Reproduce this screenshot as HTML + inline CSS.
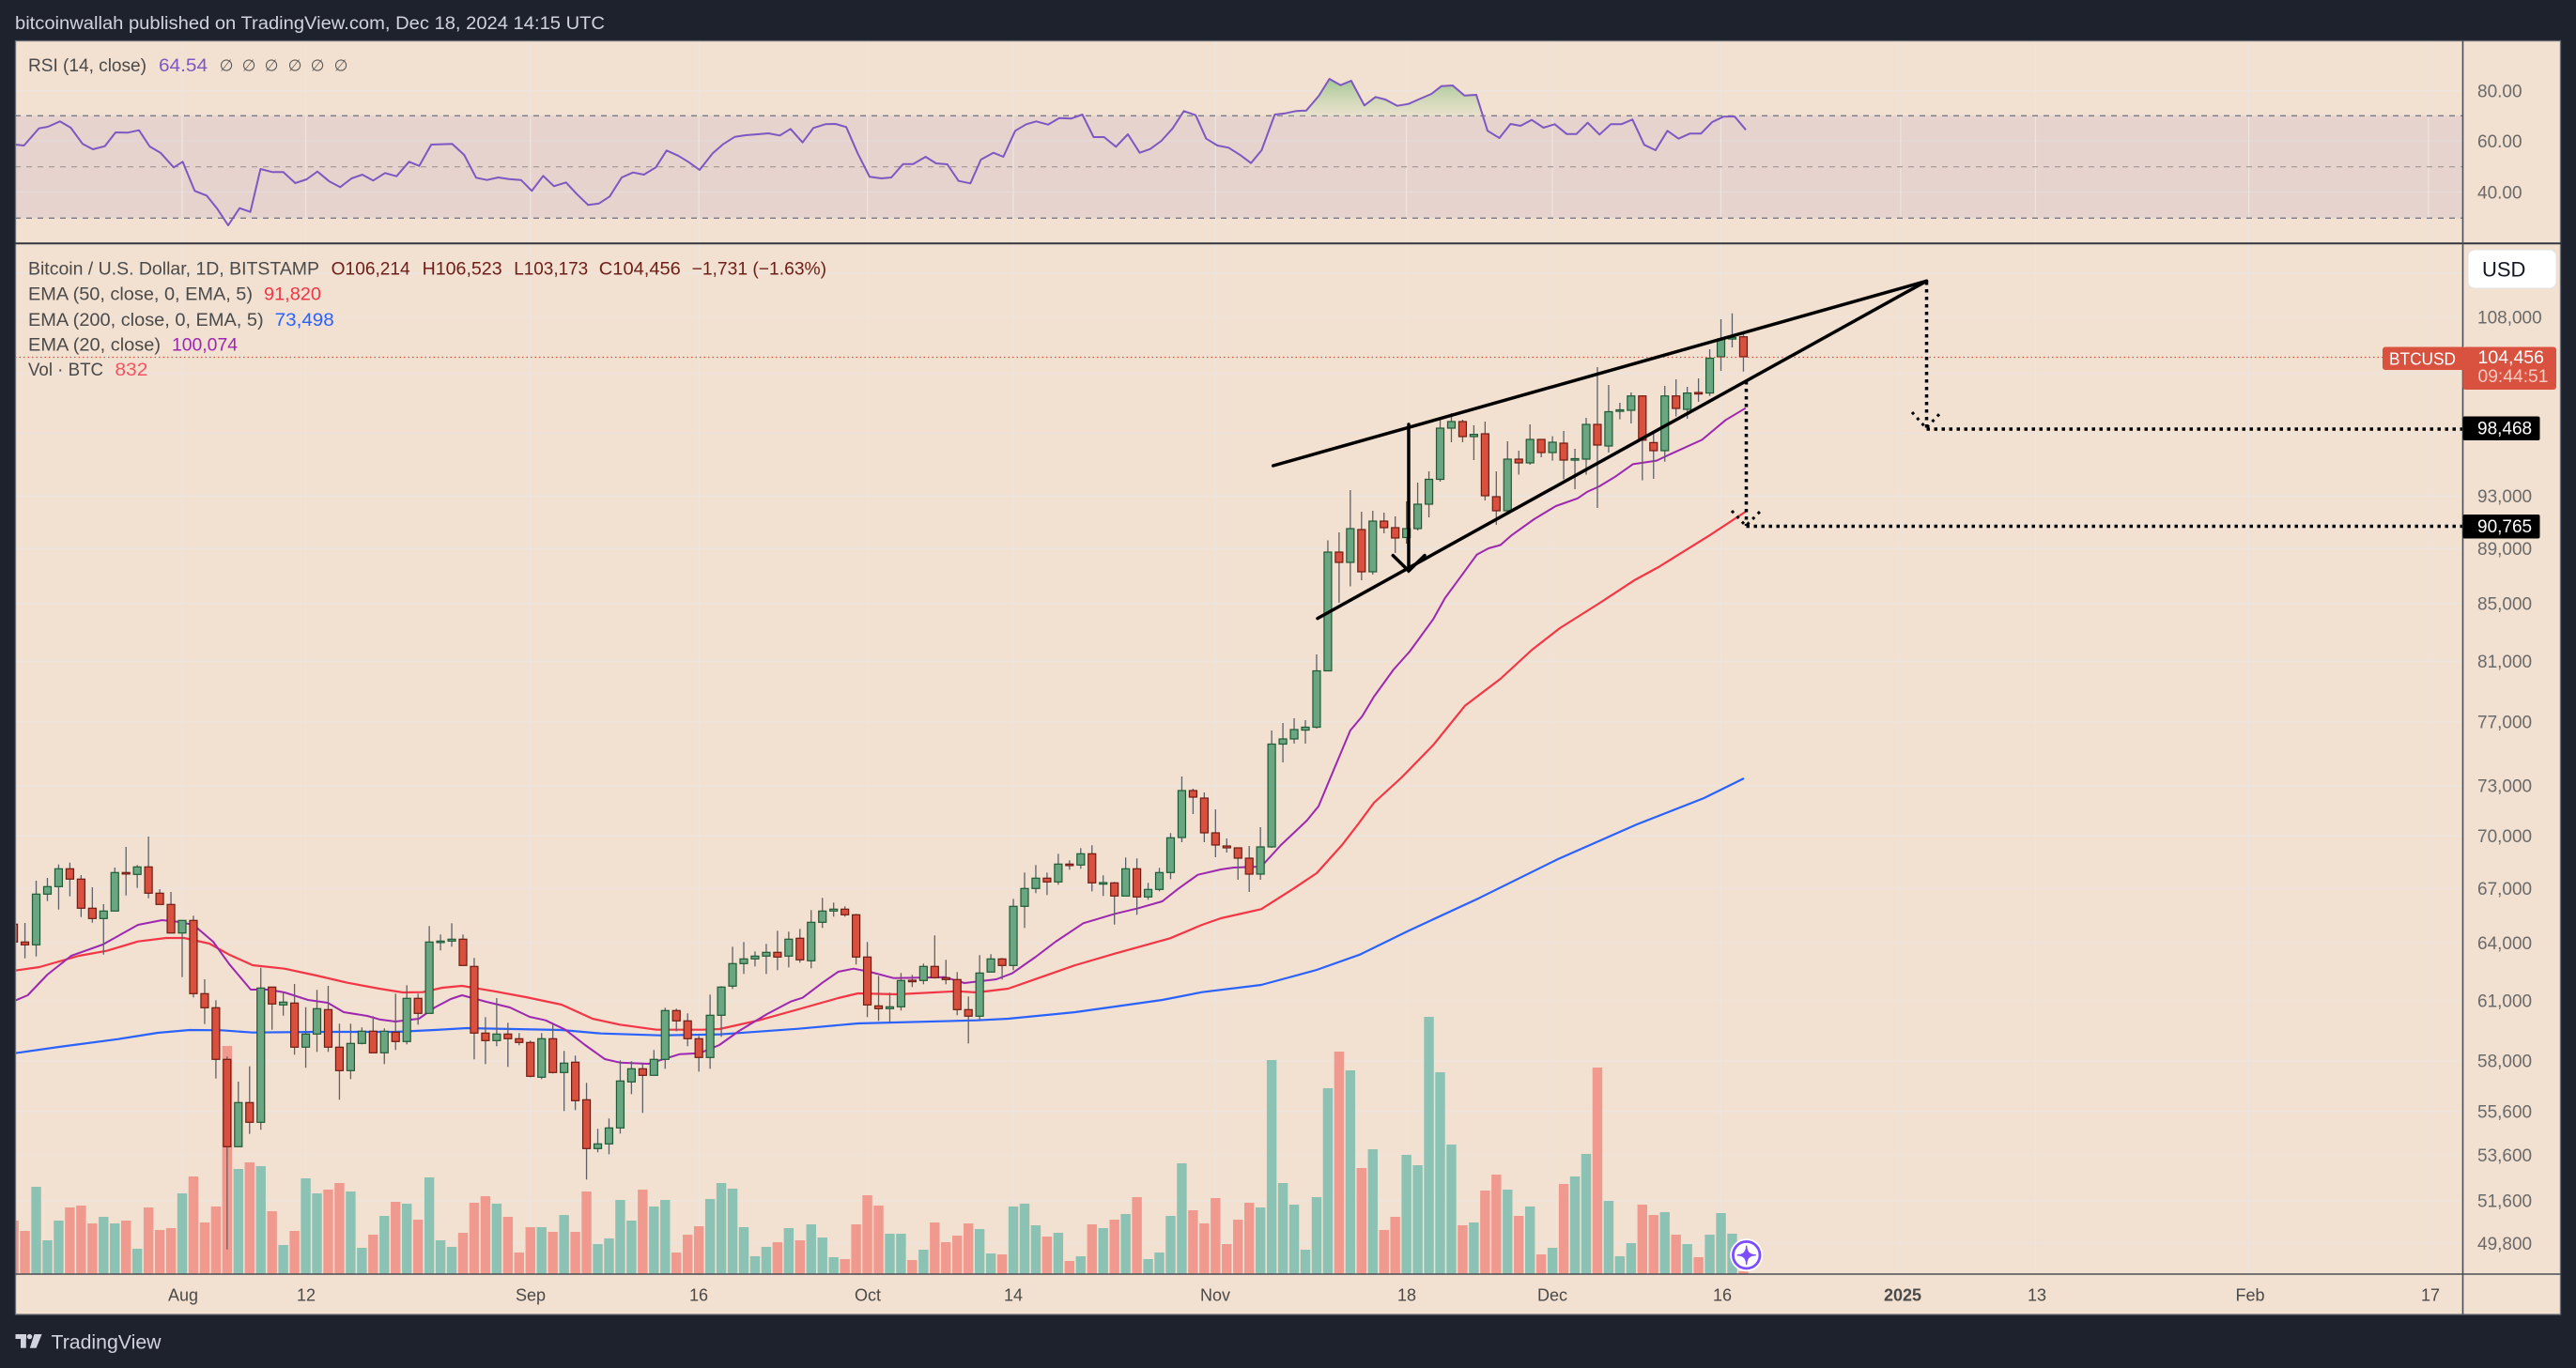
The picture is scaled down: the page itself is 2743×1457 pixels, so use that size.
<!DOCTYPE html>
<html><head><meta charset="utf-8"><title>BTCUSD chart</title>
<style>
html,body{margin:0;padding:0;background:#1e222d;width:2743px;height:1457px;overflow:hidden}
svg{display:block}
text{font-family:"Liberation Sans","DejaVu Sans",sans-serif}
</style></head>
<body>
<svg id="s" xmlns="http://www.w3.org/2000/svg" width="2743" height="1457" viewBox="0 0 2743 1457">
<defs>
<clipPath id="mp"><rect x="16" y="260" width="2606" height="1097"/></clipPath>
<clipPath id="rp"><rect x="16" y="43" width="2606" height="216"/></clipPath>
<clipPath id="ob"><rect x="16" y="43" width="2606" height="80.3"/></clipPath>
<linearGradient id="gf" x1="0" y1="84" x2="0" y2="123.3" gradientUnits="userSpaceOnUse">
<stop offset="0" stop-color="#9cc58e" stop-opacity="0.95"/>
<stop offset="1" stop-color="#dfe0c6" stop-opacity="0.5"/>
</linearGradient>
</defs>
<rect x="0" y="0" width="2743" height="1457" fill="#1e222d"/>
<text x="16" y="31" font-size="19" fill="#d1d4dc" textLength="628" lengthAdjust="spacingAndGlyphs">bitcoinwallah published on TradingView.com, Dec 18, 2024 14:15 UTC</text>

<!-- panel -->
<rect x="16" y="43" width="2711" height="1357" fill="#f2e0d0"/>
<!-- RSI band -->
<rect x="16" y="123.3" width="2606" height="109" fill="#e6d3cd"/>

<!-- grid -->
<g stroke="#ece4df" stroke-width="1.3" fill="none">
<line x1="16" x2="2622" y1="96.7" y2="96.7"/>
<line x1="16" x2="2622" y1="150" y2="150" stroke="#e4dbdc"/>
<line x1="16" x2="2622" y1="204.5" y2="204.5" stroke="#e4dbdc"/>
<line x1="16" x2="2622" y1="291.2" y2="291.2"/>
<line x1="16" x2="2622" y1="337.6" y2="337.6"/>
<line x1="16" x2="2622" y1="397.9" y2="397.9"/>
<line x1="16" x2="2622" y1="461.5" y2="461.5"/>
<line x1="16" x2="2622" y1="528.2" y2="528.2"/>
<line x1="16" x2="2622" y1="584.2" y2="584.2"/>
<line x1="16" x2="2622" y1="642.8" y2="642.8"/>
<line x1="16" x2="2622" y1="704.2" y2="704.2"/>
<line x1="16" x2="2622" y1="768.8" y2="768.8"/>
<line x1="16" x2="2622" y1="836.8" y2="836.8"/>
<line x1="16" x2="2622" y1="890.2" y2="890.2"/>
<line x1="16" x2="2622" y1="946" y2="946"/>
<line x1="16" x2="2622" y1="1004.4" y2="1004.4"/>
<line x1="16" x2="2622" y1="1065.6" y2="1065.6"/>
<line x1="16" x2="2622" y1="1129.8" y2="1129.8"/>
<line x1="16" x2="2622" y1="1183.7" y2="1183.7"/>
<line x1="16" x2="2622" y1="1230.4" y2="1230.4"/>
<line x1="16" x2="2622" y1="1278.8" y2="1278.8"/>
<line x1="16" x2="2622" y1="1324.1" y2="1324.1"/>
<g id="vgrid"></g>
</g>

<!-- RSI dashed levels -->
<line x1="16" x2="2622" y1="123.3" y2="123.3" stroke="#787b86" stroke-width="1.3" stroke-dasharray="6 6"/>
<line x1="16" x2="2622" y1="177.6" y2="177.6" stroke="#a59c99" stroke-width="1.2" stroke-dasharray="6 6"/>
<line x1="16" x2="2622" y1="232.3" y2="232.3" stroke="#787b86" stroke-width="1.3" stroke-dasharray="6 6"/>

<!-- RSI overbought fill -->
<g clip-path="url(#ob)">
<polygon fill="url(#gf)" points="1248.7,136.7 1260.6,118.3 1273.2,122.7 1284.4,147.7 1343.4,160 1357.4,122 1368.6,120.7 1379.8,118.3 1391,117.7 1404.4,102 1415.6,84 1427.5,90.7 1438.8,86 1452.8,112.3 1464.7,103.3 1475.2,106 1487.9,112.7 1499.8,110.7 1510.3,106 1524.3,100 1534.9,91.7 1546.8,91 1559.4,101.7 1572,101 1584,139.3 1584,130 1248.7,130"/>
</g>
<!-- RSI line -->
<polyline clip-path="url(#rp)" fill="none" stroke="#7e57c2" stroke-width="2" stroke-linejoin="round" points="15.9,154 25.5,155 41.5,136.7 51,135 63.8,129.3 75.3,136 88,153.3 98.9,159 111.6,155.7 123.1,141 135.8,141.3 148,138.7 159.4,156 170.9,162.7 185,178.3 194.5,172.3 207.3,203.3 220,208.3 230.9,221.7 243,240 255.1,221.7 266.6,225.7 277.4,180 290.2,183.3 301.7,183.3 314.4,195 326.5,191 338,182.7 350.8,193.3 362.2,199.3 374.4,190 385.8,186 397.3,192.3 410,184.3 422.2,187.7 435.6,172.3 446.4,176.7 459.2,154 481.5,153.3 494.3,165 507,189.3 518.5,191.7 530.6,189 542.1,190.7 554.8,191.7 566.3,203.3 578.4,187.3 589.9,198.3 602.7,194.3 614.2,206.7 626.3,218.3 637.8,216.7 649.2,209.3 662,189 674.1,183.7 685.6,186 698.3,178.3 709.8,160.3 721.9,165.7 733.4,172.7 744.9,181 758.9,163.3 770.4,153.3 782.5,145.7 794,144 806.8,143 818.2,142 830.4,144.3 841.8,137.3 854.6,151.7 866.1,136.3 878.8,132.3 889.7,132 901.1,135.3 913.3,163.3 926,188.3 938.6,190 949.1,189 961.7,174.7 972.3,174.7 985.6,167 996.8,174 1008.7,175 1020.7,192.7 1033.3,195.3 1044.5,170 1057.8,162.7 1068.4,167 1081,139.3 1092.9,132.3 1103.4,129.3 1116,132.7 1128,125.7 1140.6,126.3 1152.5,122 1164.5,146 1175.7,146 1188.3,156.3 1201,143 1213.6,162.7 1224.8,158.7 1236.7,150 1248.7,136.7 1260.6,118.3 1273.2,122.7 1284.4,147.7 1296.4,155 1308.3,157.3 1320.9,165.3 1332.1,173.7 1343.4,160 1357.4,122 1368.6,120.7 1379.8,118.3 1391,117.7 1404.4,102 1415.6,84 1427.5,90.7 1438.8,86 1452.8,112.3 1464.7,103.3 1475.2,106 1487.9,112.7 1499.8,110.7 1510.3,106 1524.3,100 1534.9,91.7 1546.8,91 1559.4,101.7 1572,101 1584,139.3 1596.6,147 1608.5,132 1619.1,134 1631,127.7 1643.6,136 1655.5,132.3 1668.2,142.7 1678.7,142.7 1690.6,130.7 1703.2,143.3 1715.2,132.3 1726.4,132.3 1738.3,127.3 1750.9,154.3 1762.9,160 1775.5,139.3 1787.4,147.7 1799.3,142.3 1811.2,142.3 1823.2,130 1835.1,124.3 1847,124 1859,138.3"/>

<!-- main pane -->
<g clip-path="url(#mp)">
<g id="vol"></g>
<polyline fill="none" stroke="#2962ff" stroke-width="2.2" stroke-linejoin="round" points="16,1121.7 63,1115 126,1106.7 168,1100 202,1097 236,1097.3 269,1099.7 337,1099 421,1099 463,1097 497,1095 547,1096 598,1097 640,1100.7 703,1102.7 766,1101.7 850,1095.7 913.6,1090 1040,1086.7 1073.5,1085 1145,1078 1237.6,1065 1280,1056.7 1343,1049 1402,1033 1448,1016.7 1499,991.7 1574.6,956.7 1659,915 1743,878 1814.5,850 1857,829"/>
<polyline fill="none" stroke="#f23645" stroke-width="2.2" stroke-linejoin="round" points="16,1033.7 42,1030 84,1018 113.6,1012.7 147,1002.7 177,999 196,999 223,1005 244,1016.7 269,1028 303,1031.7 337,1039 370,1046.7 404,1053 429,1057 450,1056.7 471,1052 492,1050 526,1055.7 560,1062 598,1070 631,1085 660,1091.3 699,1096.7 749,1096.7 766,1096 808,1086.7 850,1075 892.5,1063 913.6,1058 955.7,1059 1018.8,1055.7 1040,1057 1073.5,1053 1103,1042.7 1145,1028 1187,1015.7 1246,999.3 1280,985 1300,978 1343,968.3 1377,946.7 1402,930 1429,900 1446,878 1463,855 1492.5,828 1526,793.7 1560,751.6 1597.7,723 1631.4,692 1661,669 1703,642.5 1741,617.6 1766,604 1821,569.8 1858.7,545"/>
<polyline fill="none" stroke="#9c27b0" stroke-width="2" stroke-linejoin="round" points="16,1065.7 29.5,1060 50.5,1038 75.8,1018 109.4,1006 126,996.7 147,985 172.6,980 189.4,981.7 206,985 227,1003 244,1026.7 267,1054 286,1054 303,1057 328,1065 349,1068 366,1078 391,1082 404,1085.7 421,1088 446,1085 463,1073 480,1064 492,1060 518,1067 543,1073 564,1083 581,1086.7 602,1096.7 623,1113 644,1128 660,1131.7 690.5,1133 724,1122.7 745,1121.7 766,1113 787,1098 816.8,1080 842,1066.7 854.6,1062.7 875.7,1046.7 892.5,1035 909,1031.7 926,1035 951.4,1041.7 1006,1040.7 1027,1047 1061,1043 1077.7,1036.7 1103,1019 1124,1003 1153.5,983.3 1187,973.3 1212,967.3 1237.6,960 1254.5,946.7 1275.5,931.7 1300,926 1313.7,924 1343,923 1364,900 1391.5,874 1404,858.7 1416.8,828 1437.8,778 1450.4,763 1463,742 1484,713 1501,694 1526,659.7 1538.8,636.8 1555.7,613.8 1572.5,590.8 1585,584 1597.7,580.5 1610,569.8 1633.5,553 1656.7,539 1679.8,530.8 1690,523.9 1703,518 1719.8,507.8 1738.7,494.4 1764,490.6 1778.7,483.7 1812.4,468.4 1837.6,447.3 1858.7,434.7"/>
<g id="cdl"></g>
<!-- current price line -->
<line x1="16" x2="2537" y1="380.5" y2="380.5" stroke="#e0503f" stroke-width="1.2" stroke-dasharray="1.5 3"/>
<!-- wedge drawing -->
<g stroke="#000" stroke-width="3.5" stroke-linecap="round" fill="none">
<line x1="1355.7" y1="496" x2="2051.5" y2="299.3"/>
<line x1="1403" y1="658.6" x2="2051.5" y2="299.3"/>
<line x1="1500" y1="452" x2="1500" y2="607"/>
<polyline points="1483.3,591.6 1500,608 1517,591.6"/>
</g>
<g stroke="#000" stroke-width="3.5" fill="none" stroke-dasharray="3.5 4.5">
<line x1="1859.5" y1="406" x2="1859.5" y2="560"/>
<line x1="1859.5" y1="560.5" x2="2622" y2="560.5"/>
<line x1="2051.5" y1="300" x2="2051.5" y2="456.5"/>
<line x1="2051.5" y1="457" x2="2622" y2="457"/>
</g>
<g stroke="#000" stroke-width="3" fill="none" stroke-dasharray="3 5">
<polyline points="1844,544 1859,560 1875,544"/>
<polyline points="2036,439 2051,456 2067,439"/>
</g>
<!-- sparkle button -->
<circle cx="1859.7" cy="1336.7" r="17.5" fill="#ffffff"/>
<circle cx="1859.7" cy="1336.7" r="14.3" fill="#ffffff" stroke="#7c4dff" stroke-width="2.8"/>
<path d="M1859.7,1327.2 Q1859.7,1336.7 1869.2,1336.7 Q1859.7,1336.7 1859.7,1346.2 Q1859.7,1336.7 1850.2,1336.7 Q1859.7,1336.7 1859.7,1327.2 Z" fill="#7c4dff" stroke="#7c4dff" stroke-width="1.5" stroke-linejoin="round"/>
</g>

<!-- separators / borders -->
<rect x="16.5" y="43.5" width="2710" height="1356.5" fill="none" stroke="#6a6d75" stroke-width="1.3"/>
<line x1="16" x2="2727" y1="259.3" y2="259.3" stroke="#33363f" stroke-width="2"/>
<line x1="16" x2="2727" y1="1357" y2="1357" stroke="#4a4d55" stroke-width="1.6"/>
<line x1="2622.5" x2="2622.5" y1="43" y2="1400" stroke="#4a4d55" stroke-width="1.6"/>

<!-- RSI axis labels -->
<g font-size="19" fill="#6a6a6a">
<text x="2638" y="103.5">80.00</text>
<text x="2638" y="156.8">60.00</text>
<text x="2638" y="211.5">40.00</text>
</g>
<!-- price axis labels -->
<g font-size="19" fill="#6a6a6a">
<text x="2638" y="344.4">108,000</text>
<text x="2638" y="535">93,000</text>
<text x="2638" y="591">89,000</text>
<text x="2638" y="649.6">85,000</text>
<text x="2638" y="711">81,000</text>
<text x="2638" y="775.6">77,000</text>
<text x="2638" y="843.6">73,000</text>
<text x="2638" y="897">70,000</text>
<text x="2638" y="952.8">67,000</text>
<text x="2638" y="1011.2">64,000</text>
<text x="2638" y="1072.4">61,000</text>
<text x="2638" y="1136.6">58,000</text>
<text x="2638" y="1190.5">55,600</text>
<text x="2638" y="1237.2">53,600</text>
<text x="2638" y="1285.6">51,600</text>
<text x="2638" y="1330.9">49,800</text>
</g>
<!-- USD box -->
<rect x="2628" y="266" width="94" height="41" rx="7" fill="#ffffff" stroke="#e3e3e6" stroke-width="1"/>
<text x="2643" y="294.5" font-size="22" fill="#131722">USD</text>
<!-- BTCUSD label -->
<rect x="2537" y="369.5" width="88" height="24.5" rx="3" fill="#d9523f"/>
<text x="2544" y="388.5" font-size="18" fill="#ffffff" textLength="71" lengthAdjust="spacingAndGlyphs">BTCUSD</text>
<rect x="2622.5" y="369.5" width="99.5" height="45.5" rx="3" fill="#d9523f"/>
<text x="2638.5" y="386.8" font-size="19" fill="#ffffff" textLength="70.5" lengthAdjust="spacingAndGlyphs">104,456</text>
<text x="2638.5" y="406.8" font-size="19" fill="#f6c9c1" textLength="75" lengthAdjust="spacingAndGlyphs">09:44:51</text>
<!-- level labels -->
<rect x="2622.5" y="443.5" width="82" height="25.5" rx="2" fill="#000000"/>
<text x="2638" y="462.6" font-size="19" fill="#ffffff">98,468</text>
<rect x="2622.5" y="548" width="82" height="25.5" rx="2" fill="#000000"/>
<text x="2638" y="567.1" font-size="19" fill="#ffffff">90,765</text>

<!-- time axis labels -->
<g font-size="18" fill="#4a4a4a" text-anchor="middle">
<text x="195" y="1385.5">Aug</text>
<text x="326" y="1385.5">12</text>
<text x="565" y="1385.5">Sep</text>
<text x="744" y="1385.5">16</text>
<text x="924" y="1385.5">Oct</text>
<text x="1079" y="1385.5">14</text>
<text x="1294" y="1385.5">Nov</text>
<text x="1498" y="1385.5">18</text>
<text x="1653" y="1385.5">Dec</text>
<text x="1834" y="1385.5">16</text>
<text x="2026" y="1385.5" font-weight="bold">2025</text>
<text x="2169" y="1385.5">13</text>
<text x="2396" y="1385.5">Feb</text>
<text x="2588" y="1385.5">17</text>
</g>

<!-- legends -->
<g font-size="19">
<text x="30" y="75.8" fill="#4a4a4a" textLength="126" lengthAdjust="spacingAndGlyphs">RSI (14, close)</text>
<text x="169" y="75.8" fill="#7e57c2" textLength="52" lengthAdjust="spacingAndGlyphs">64.54</text>
<g fill="#555" font-family="DejaVu Sans, sans-serif" font-size="17" text-anchor="middle">
<text x="241" y="75.5">∅</text><text x="265" y="75.5">∅</text><text x="289" y="75.5">∅</text><text x="314" y="75.5">∅</text><text x="338" y="75.5">∅</text><text x="363" y="75.5">∅</text>
</g>
<text x="30" y="292.5" fill="#4a4a4a" textLength="310" lengthAdjust="spacingAndGlyphs">Bitcoin / U.S. Dollar, 1D, BITSTAMP</text>
<text x="352.7" y="292.5" fill="#6e1d17" textLength="84" lengthAdjust="spacingAndGlyphs">O106,214</text>
<text x="449.6" y="292.5" fill="#6e1d17" textLength="85" lengthAdjust="spacingAndGlyphs">H106,523</text>
<text x="547.2" y="292.5" fill="#6e1d17" textLength="79" lengthAdjust="spacingAndGlyphs">L103,173</text>
<text x="637.8" y="292.5" fill="#6e1d17" textLength="87" lengthAdjust="spacingAndGlyphs">C104,456</text>
<text x="736.6" y="292.5" fill="#6e1d17" textLength="143.5" lengthAdjust="spacingAndGlyphs">−1,731 (−1.63%)</text>
<text x="30" y="319.5" fill="#4a4a4a" textLength="239" lengthAdjust="spacingAndGlyphs">EMA (50, close, 0, EMA, 5)</text>
<text x="281" y="319.5" fill="#f23645" textLength="61" lengthAdjust="spacingAndGlyphs">91,820</text>
<text x="30" y="346.8" fill="#4a4a4a" textLength="250.6" lengthAdjust="spacingAndGlyphs">EMA (200, close, 0, EMA, 5)</text>
<text x="292.7" y="346.8" fill="#2962ff" textLength="63" lengthAdjust="spacingAndGlyphs">73,498</text>
<text x="30" y="373.5" fill="#4a4a4a" textLength="141" lengthAdjust="spacingAndGlyphs">EMA (20, close)</text>
<text x="183" y="373.5" fill="#9c27b0" textLength="70" lengthAdjust="spacingAndGlyphs">100,074</text>
<text x="30" y="400" fill="#4a4a4a" textLength="80" lengthAdjust="spacingAndGlyphs">Vol · BTC</text>
<text x="122.4" y="400" fill="#f7525f" textLength="35" lengthAdjust="spacingAndGlyphs">832</text>
</g>

<!-- footer -->
<g fill="#d1d4dc">
<rect x="16.5" y="1421" width="11.5" height="5"/>
<rect x="22" y="1421" width="5.8" height="14.7"/>
<circle cx="31.5" cy="1423.6" r="2.7"/>
<polygon points="36.5,1421 44.6,1421 38.6,1435.7 31.8,1435.7"/>
<text x="54.5" y="1436.5" font-size="21" textLength="117" lengthAdjust="spacingAndGlyphs">TradingView</text>
</g>
</svg>
<script>
(function(){
var NS='http://www.w3.org/2000/svg';
function el(t,a,p){var e=document.createElementNS(NS,t);for(var k in a)e.setAttribute(k,a[k]);p.appendChild(e);return e;}
function X(d){return 194+11.96*d;}
// vertical grid
var vg=document.getElementById('vgrid');
[194,325.6,564.8,744.2,923.6,1079,1294.3,1497.6,1653.1,1832.5,2023.9,2167.4,2394.6,2585.9].forEach(function(x){
 el('line',{x1:x,x2:x,y1:43,y2:1357},vg);
});
// volume
var vol="r1300 r1311 g1264 g1321 g1300 r1286 r1284 r1303 g1296 g1303 r1300 g1330 r1286 r1310 r1308 g1271 r1253 r1302 r1285 r1114 g1245 r1238 g1242 r1290 g1326 r1311 g1255 g1271 r1267 r1260 g1269 g1329 r1315 g1295 r1280 g1282 r1299 g1254 g1321 g1328 r1313 r1281 r1274 g1282 r1296 r1334 r1307 g1307 r1312 g1294 r1312 r1269 g1325 g1319 g1278 g1300 r1267 g1285 g1278 r1334 r1315 r1306 g1277 g1260 g1266 g1307 g1338 g1328 r1323 g1308 r1321 g1304 g1318 g1339 r1341 r1304 r1273 r1284 g1314 g1314 r1342 g1331 r1302 r1323 r1316 r1303 g1309 g1335 r1336 g1285 g1282 g1305 r1317 g1313 r1343 g1338 r1304 g1308 r1299 g1293 r1275 g1341 g1334 g1295 g1239 r1289 r1303 r1276 r1325 r1299 r1281 g1286 g1129 g1260 g1283 g1331 g1275 g1159 r1120 g1140 r1244 g1224 r1310 r1296 g1230 g1241 g1083 g1142 g1219 r1305 g1302 r1268 r1251 g1267 r1295 g1285 r1336 g1329 r1261 g1253 g1229 r1137 g1279 g1338 g1324 r1283 r1294 g1291 r1315 g1325 r1339 g1315 g1292 g1314 r1354".split(' ');
var vgp=document.getElementById('vol');
vol.forEach(function(s,i){
 var d=i-15,t=s.charAt(0),top=parseFloat(s.slice(1));
 el('rect',{x:(X(d)-5.2).toFixed(2),y:top,width:10.4,height:(1357-top).toFixed(1),fill:t==='g'?'#8cc2b4':'#f0998e'},vgp);
});
// candles: type bodyTop bodyBot wickTop wickBot
var C=[
"r 984.3 1003.3 975 1003.3","r 1003.3 1006.3 983 1020.7","g 952.3 1006.3 938 1018.7","g 944.3 952.3 935 959.7","g 925.3 944.3 920.7 968.7",
"r 925.3 936.3 918.7 954.7","r 936.3 967.3 932 976.7","r 967.3 978.3 945 982.7","g 970.3 978.3 963 1016.7","g 929.3 970.3 924 970.3",
"r 929.3 930.3 902 953.7","g 923.3 931.3 921.3 945.7","r 923.3 951.3 891 956.7","r 951.3 963.3 947 963.3","r 963.3 993.7 950 993.7",
"g 980.3 993.7 980.3 1040.7","r 980.3 1058.3 975.3 1062.3","r 1058.3 1073.3 1043 1090.7","r 1073.3 1128.3 1065.3 1148.7","r 1128.3 1221.3 1125.3 1330.7",
"g 1174.3 1221.3 1152 1221.3","r 1174.3 1195.3 1135.7 1207.7","g 1052.3 1195.3 1030.7 1203.3","r 1051.3 1069.3 1051.3 1096.7","g 1067.3 1070.3 1057.3 1081.7",
"r 1068.3 1115.3 1048 1123.3","g 1101.3 1115.3 1072.7 1137.3","g 1074.3 1101.3 1054.3 1120.3","r 1075.3 1115.3 1050 1120.3","r 1115.3 1140.3 1090.3 1171.3",
"g 1111.3 1140.3 1090.3 1149.3","g 1098.3 1111.3 1094.3 1112.3","r 1098.3 1121.3 1082.3 1121.3","g 1098.3 1121.3 1095.3 1133.3","r 1099.3 1109.3 1058.3 1118.3",
"g 1063.3 1109.3 1049.3 1112.3","r 1063.3 1079.3 1058.3 1091.3","g 1003.3 1079.3 986.3 1079.3","g 1002.3 1003.3 995.3 1012.3","g 1000.3 1002.3 983.3 1008.3",
"r 1000.3 1028.3 995.3 1028.3","r 1029.3 1100.3 1020.3 1128.3","r 1100.3 1108.3 1083.3 1133.3","g 1101.3 1108.3 1063 1114.3","r 1101.3 1106.3 1089.3 1136.3",
"r 1106.3 1110.3 1100.3 1113.3","r 1110.3 1146.3 1108.3 1147.3","g 1106.3 1147.3 1100.3 1149.3","r 1106.3 1142.3 1091.3 1143.3","g 1132.3 1142.3 1119.3 1183.3",
"r 1131.3 1172.3 1124.3 1182.3","r 1171.3 1223.3 1153.3 1256.3","g 1218.3 1223.3 1202.3 1227.3","g 1201.3 1218.3 1191.3 1229.3","g 1151.3 1201.3 1129.3 1207.3",
"g 1138.3 1152.3 1130.3 1165.3","r 1138.3 1145.3 1133.3 1185.3","g 1128.3 1145.3 1118.3 1145.3","g 1076.3 1128.3 1073.3 1138.3","r 1076.3 1087.3 1074.3 1098.3",
"r 1087.3 1106.3 1079.3 1114.3","r 1106.3 1126.3 1103.3 1141.3","g 1081.3 1126.3 1059.3 1138.3","g 1051.3 1081.3 1050.3 1104.3","g 1026.3 1050.3 1008.3 1053.3",
"g 1021.3 1026.3 1003.3 1037.3","g 1018.3 1021.3 1013.3 1029.3","g 1014.3 1018.3 1005.3 1037.3","r 1014.3 1019.3 991.3 1033.3","g 1000.3 1018.3 992.3 1030.3",
"r 999.3 1022.3 989.3 1025.3","g 982.3 1023.3 969.3 1031.3","g 970.3 982.3 956.3 988.3","g 968.3 970.3 961.3 976.3","r 968.3 974.3 965.3 976.3",
"r 974.3 1019.3 973.3 1027.3","r 1019.3 1070.3 1003.3 1083.3","r 1071.3 1074.3 1039.3 1087.3","g 1072.3 1074.3 1057.3 1089.3","g 1044.3 1072.3 1036.3 1076.3",
"r 1044 1045 1038.3 1051.3","g 1029.3 1044.3 1026.3 1048.3","r 1029.3 1041.3 996.3 1042.3","r 1041.3 1043.3 1022.3 1048.3","r 1043.3 1075.3 1035.3 1081.3",
"r 1075.3 1082.3 1061.3 1111.3","g 1036.3 1082.3 1017.3 1086.3","g 1021.3 1035.3 1016.3 1035.3","r 1021.3 1028.3 1020.3 1043.3","g 965.3 1028.3 957.3 1033.3",
"g 946.3 965.3 929.3 988.3","g 935.3 946.3 921.3 951.3","r 935.3 939.3 929.3 953.3","g 920.3 939.3 909.3 942.3","r 920.3 921.3 916.3 926.3",
"g 909.3 921.3 903.3 925.3","r 909.3 940.3 900.3 949.3","g 940 940.7 932.3 954.3","r 940.3 954.3 939.3 984.7","g 925.3 954.3 913.3 954.3",
"r 925.3 955.3 914.3 974.3","g 947.3 955.3 940.3 958.3","g 929.3 947.3 924.3 949.3","g 892.3 929.3 887.3 936.3","g 842 892 827 897",
"r 842 849 840 867","r 850 887 844 897","r 887 900 862 913","r 901 903 893 908","r 903 914 903 937",
"r 914 931 901 950","g 902 931 881 937","g 792.5 902 778 903","g 787 792.5 770 812","g 777 787 765 792",
"g 774.5 777.6 767 792","g 714.5 774.5 697 776","g 588 714.5 575.5 715","r 588 599 567 642","g 563 599 522 624.5",
"r 564 609 545 618","g 555 609 544 612","r 555 562 546 568","r 562 573 550 589","g 563 572.5 534 579",
"g 537 563 514 565","g 510.5 537 502 551","g 456 510.5 446.6 513","g 449 456 440 471","r 449 465 447 471",
"g 462.6 465 453 490","r 462 528 449 533","r 529 544 502 559","g 489 544 470 545","r 489 493 480 505.5",
"g 468 493 452 495","r 468 482 468 487","g 471 482 464.6 490.6","r 472 490 459 510.5","g 488.5 489.5 478 521",
"g 452 489 445 505.5","r 452 474 391 541","g 438.5 475 410 482","g 436.5 437.5 429 446.6","g 421.7 437 418 451",
"r 421.7 468.8 421 511.6","r 471.4 480 460 510","g 421.7 480 411 491.7","r 421.7 435 404 443.5","g 418.6 436 412 446",
"r 418 419 403 428","g 381.5 418.6 372 421.7","g 361 380 340 395","g 359.5 360.5 333.7 370","r 358.7 380 355 395.7"
];
var cg=document.getElementById('cdl');
C.forEach(function(s,i){
 var p=s.split(' '),d=i-15,x=X(d),t=p[0];
 var bt=+p[1],bb=+p[2],wt=+p[3],wb=+p[4];
 el('line',{x1:x.toFixed(2),x2:x.toFixed(2),y1:wt,y2:wb,stroke:'#5f6168','stroke-width':1.3},cg);
 var h=Math.max(bb-bt,1.6);
 el('rect',{x:(x-4).toFixed(2),y:bt,width:8,height:h.toFixed(1),
  fill:t==='g'?'#69a681':'#d9503f',stroke:t==='g'?'#1f5a35':'#6e1c12','stroke-width':1.2},cg);
});
})();
</script>
</body></html>
